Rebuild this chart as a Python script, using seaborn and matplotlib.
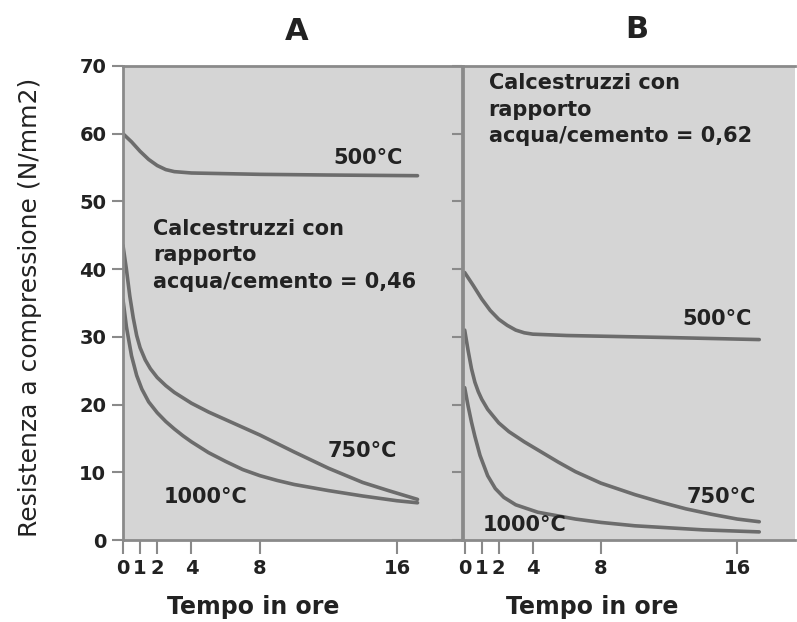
import matplotlib
matplotlib.use('Agg')
import matplotlib.pyplot as plt
from matplotlib.lines import TICKLEFT
import seaborn as sns

# Panel A: acqua/cemento = 0,46
a500_h = [0, 0.5, 1, 1.5, 2, 2.5, 3, 4, 6, 8, 12, 17.2]
a500_v = [60, 58.8, 57.4, 56.2, 55.3, 54.7, 54.4, 54.2, 54.1, 54.0, 53.9, 53.8]
a750_h = [0, 0.2, 0.4, 0.6, 0.8, 1.0, 1.3, 1.6, 2, 2.5, 3, 4, 5, 6.5, 8, 10, 12, 14, 15.5, 17.2]
a750_v = [43.5, 40, 36, 32.8, 30.2, 28.4, 26.6, 25.3, 24.0, 22.8, 21.8, 20.2, 18.9, 17.2, 15.5, 13.0, 10.6, 8.5, 7.3, 6.0]
a1000_h = [0, 0.2, 0.5, 0.8, 1.1, 1.5, 2, 2.5, 3, 3.5, 4, 5, 6, 7, 8, 9, 10, 12, 14, 16, 17.2]
a1000_v = [35.5, 31.5, 27.2, 24.3, 22.3, 20.4, 18.8, 17.5, 16.4, 15.4, 14.5, 12.9, 11.6, 10.4, 9.5, 8.8, 8.2, 7.3, 6.5, 5.8, 5.5]

# Panel B: acqua/cemento = 0,62
b500_h = [0, 0.5, 1, 1.5, 2, 2.5, 3, 3.5, 4, 6, 8, 12, 17.3]
b500_v = [39.5, 37.6, 35.6, 33.9, 32.6, 31.7, 31.0, 30.6, 30.4, 30.2, 30.1, 29.9, 29.6]
b750_h = [0, 0.2, 0.4, 0.6, 0.8, 1, 1.35, 2, 2.6, 3.5, 4.5, 5.5, 6.5, 8, 10, 11.5, 13, 14.5, 16, 17.3]
b750_v = [31, 28, 25.3, 23.3, 21.9, 20.8, 19.3, 17.3, 16.0, 14.5, 13.0, 11.5, 10.1, 8.4, 6.7, 5.6, 4.6, 3.8, 3.1, 2.7]
b1000_h = [0, 0.2, 0.4, 0.6, 0.9, 1.35, 1.8, 2.3, 3, 4.3, 6.5, 8, 10, 12, 14, 17.3]
b1000_v = [22.5, 19.8, 17.4, 15.3, 12.5, 9.5, 7.6, 6.3, 5.2, 4.1, 3.1, 2.6, 2.1, 1.8, 1.5, 1.2]

x_ticks = [0, 1, 2, 4, 8, 16]
y_ticks = [0, 10, 20, 30, 40, 50, 60, 70]
temp_labels = ['500°C', '750°C', '1000°C']
note_a = 'Calcestruzzi con\nrapporto\nacqua/cemento = 0,46'
note_b = 'Calcestruzzi con\nrapporto\nacqua/cemento = 0,62'

sns.set_style('ticks')
plt.rcParams['font.family'] = ['DejaVu Sans']

BG = '#d5d5d5'
LINE = '#6c6c6c'
SPINE = '#8a8a8a'
TXT = '#222222'

fig = plt.figure(figsize=(7.97, 6.22), dpi=100)
ax_a = fig.add_axes([0.1543, 0.1318, 0.4254, 0.7621])
ax_b = fig.add_axes([0.5809, 0.1318, 0.4166, 0.7621])

curves = {
    ax_a: [(a500_h, a500_v), (a750_h, a750_v), (a1000_h, a1000_v)],
    ax_b: [(b500_h, b500_v), (b750_h, b750_v), (b1000_h, b1000_v)],
}
for ax, series in curves.items():
    ax.set_facecolor(BG)
    for h, v in series:
        sns.lineplot(x=h, y=v, ax=ax, color=LINE, linewidth=2.6)
    ax.set_ylim(0, 70)
    ax.set_xticks(x_ticks)
    ax.set_xticklabels([str(t) for t in x_ticks], fontsize=14, fontweight='bold', color=TXT)
    ax.tick_params(axis='x', length=10, width=1.5, color=SPINE, pad=4)
    for s in ax.spines.values():
        s.set_color(SPINE)
        s.set_linewidth(2)
    ax.set_xlabel('Tempo in ore', fontsize=17, fontweight='bold', color=TXT)

ax_a.set_xlim(0, 19.8)
ax_b.set_xlim(-0.1, 19.4)
ax_a.xaxis.set_label_coords(0.384, -0.115)
ax_b.xaxis.set_label_coords(0.39, -0.115)

ax_a.set_yticks(y_ticks)
ax_a.set_yticklabels([str(t) for t in y_ticks], fontsize=14, fontweight='bold', color=TXT)
ax_a.tick_params(axis='y', left=True, right=True, labelright=False, direction='out',
                 length=8, width=1.5, color=SPINE, pad=4)
for t in ax_a.yaxis.get_major_ticks():
    t.tick2line.set_marker(TICKLEFT)
    t.tick2line.set_markersize(7)
ax_a.set_ylabel('Resistenza a compressione (N/mm2)', fontsize=18, color=TXT)
ax_a.yaxis.set_label_coords(-0.24, 0.49)

ax_b.set_yticks(y_ticks)
ax_b.tick_params(axis='y', left=False, labelleft=False)
ax_b.spines['right'].set_visible(False)

# curve labels
lab = dict(fontsize=15, fontweight='bold', color=TXT, ha='center', va='center')
ax_a.text(14.3, 56.4, temp_labels[0], **lab)
ax_a.text(14.0, 13.1, temp_labels[1], **lab)
ax_a.text(4.8, 6.4, temp_labels[2], **lab)
ax_b.text(14.8, 32.6, temp_labels[0], **lab)
ax_b.text(15.1, 6.4, temp_labels[1], **lab)
ax_b.text(3.5, 2.2, temp_labels[2], **lab)

note = dict(fontsize=15, fontweight='bold', color=TXT, ha='left', va='top', linespacing=1.4)
ax_a.text(1.75, 47.4, note_a, **note)
ax_b.text(1.4, 68.9, note_b, **note)

fig.text(297 / 797, 1 - 32 / 622, 'A', fontsize=22, fontweight='semibold', color=TXT,
         ha='center', va='center')
fig.text(637 / 797, 1 - 30 / 622, 'B', fontsize=22, fontweight='semibold', color=TXT,
         ha='center', va='center')

fig.savefig('out.png', dpi=100)
plt.close(fig)
